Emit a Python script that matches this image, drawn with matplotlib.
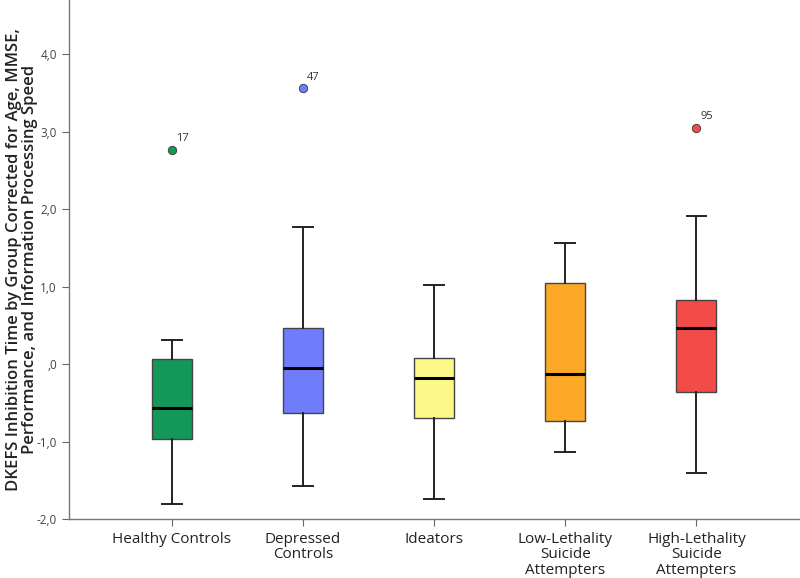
import matplotlib.pyplot as plt
import matplotlib.ticker as mticker

# group data
groups = ['Healthy Controls', 'Depressed\nControls', 'Ideators',
          'Low-Lethality\nSuicide\nAttempters', 'High-Lethality\nSuicide\nAttempters']
whislo = [-1.81, -1.57, -1.74, -1.13, -1.41]
q1 = [-0.97, -0.63, -0.70, -0.73, -0.36]
med = [-0.57, -0.05, -0.18, -0.125, 0.47]
q3 = [0.068, 0.47, 0.077, 1.05, 0.83]
whishi = [0.31, 1.77, 1.02, 1.56, 1.91]
outliers = [[2.77], [3.56], [], [], [3.05]]
outlier_ids = [['17'], ['47'], [], [], ['95']]
colors = ['#14985a', '#6f7dfb', '#fdf888', '#fba927', '#f24b48']

plt.rcParams['font.family'] = ['Open Sans', 'DejaVu Sans']

fig = plt.figure(figsize=(8, 5.78), dpi=100)
ax = fig.add_axes([0.086, 0.102, 0.914, 0.898])

stats = []
for i in range(len(groups)):
    stats.append({'whislo': whislo[i], 'q1': q1[i], 'med': med[i],
                  'q3': q3[i], 'whishi': whishi[i], 'fliers': outliers[i]})

pos = list(range(1, len(groups) + 1))
bp = ax.bxp(stats, positions=pos, widths=0.305, patch_artist=True,
            showfliers=True,
            boxprops=dict(edgecolor='#444444', linewidth=1.0),
            medianprops=dict(color='black', linewidth=2.2),
            whiskerprops=dict(color='#222222', linewidth=1.4),
            capprops=dict(color='#222222', linewidth=1.4),
            capwidths=0.15)

for i, b in enumerate(bp['boxes']):
    b.set_facecolor(colors[i])
for i, f in enumerate(bp['fliers']):
    f.set_marker('o')
    f.set_markerfacecolor(colors[i])
    f.set_markeredgecolor('#444444')
    f.set_markeredgewidth(0.7)
    f.set_markersize(6)

for i in range(len(groups)):
    for v, lab in zip(outliers[i], outlier_ids[i]):
        ax.text(pos[i] + 0.03, v + 0.07, lab, fontsize=8, color='#333333',
                ha='left', va='bottom')

ax.set_xlim(0.214, 5.79)
ax.set_ylim(-2.0, 4.70)
ax.set_yticks([-2, -1, 0, 1, 2, 3, 4])


def fmt(v, p):
    s = '%.1f' % v
    s = s.replace('.', ',')
    if s == '0,0':
        s = ',0'
    return s


ax.yaxis.set_major_formatter(mticker.FuncFormatter(fmt))
ax.set_xticks(pos)
ax.set_xticklabels(groups, fontsize=11, color='#222222', linespacing=1.05)
ax.tick_params(axis='y', labelsize=8.5, labelcolor='#444444', color='#666666',
               length=5, direction='out')
ax.tick_params(axis='x', color='#666666', length=5, direction='out', pad=4)

for s in ['top', 'right']:
    ax.spines[s].set_visible(False)
for s in ['left', 'bottom']:
    ax.spines[s].set_color('#777777')
    ax.spines[s].set_linewidth(1.0)

ax.set_ylabel('DKEFS Inhibition Time by Group Corrected for Age, MMSE,\n'
              'Performance, and Information Processing Speed',
              fontsize=12, fontweight='semibold', color='#222222', linespacing=1.0)
ax.yaxis.set_label_coords(-0.042, 0.5)

fig.savefig('out.png', dpi=100)
